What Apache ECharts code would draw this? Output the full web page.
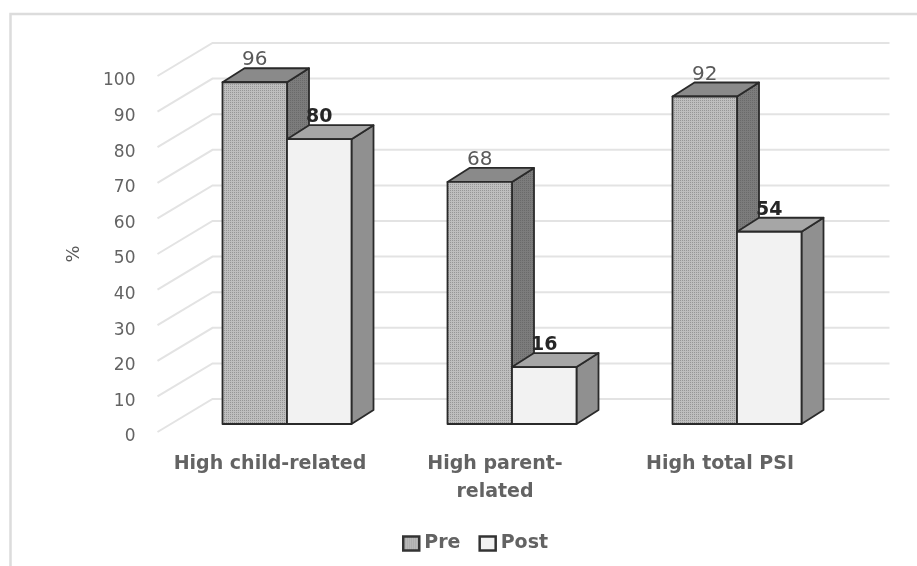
<!DOCTYPE html>
<html>
<head>
<meta charset="utf-8">
<style>
html, body { margin: 0; background: #fff; }
#main { width: 917px; height: 566px; }
</style>
<script src="https://cdn.jsdelivr.net/npm/echarts@6/dist/echarts.min.js"></script>
</head>
<body>
<div id="main"></div>
<script>
var categories = ['High child-related', 'High parent-\nrelated', 'High total PSI'];
var preValues = [96, 68, 92];
var postValues = [80, 16, 54];
var yTicks = [0, 10, 20, 30, 40, 50, 60, 70, 80, 90, 100];

var fontName = '"DejaVu Sans", sans-serif';
// depth of the side walls and of the bars, in pixels
var wallDx = 55, wallDy = -33;
var barShiftX = 17, barShiftY = -8;
var barDx = 22, barDy = -14;
var barWidth = 64.5;

function stipple(a, b) {
	var c = document.createElement('canvas');
	c.width = 4;
	c.height = 4;
	var g = c.getContext('2d');
	g.fillStyle = a;
	g.fillRect(0, 0, 4, 4);
	g.fillStyle = b;
	g.fillRect(0, 0, 1, 1);
	g.fillRect(2, 2, 1, 1);
	g.fillRect(2, 0, 1, 1);
	g.fillRect(0, 2, 1, 1);
	return { image: c, repeat: 'repeat' };
}

var preFront = stipple('#bebebe', '#969696');
var preSide = stipple('#7c7c7c', '#6a6a6a');
var line3d = { stroke: '#2a2a2a', lineWidth: 1.8, lineJoin: 'round' };

function barRenderer(side, front, top, right, labelColor, labelWeight, labelSize) {
	return function (params, api) {
		var i = api.value(0), v = api.value(1);
		var p = api.coord([i, v]);
		var p0 = api.coord([i, 0]);
		var xl = p[0] + barShiftX + (side < 0 ? -barWidth : 0);
		var xr = xl + barWidth;
		var yt = p[1] + barShiftY;
		var yb = p0[1] + barShiftY;
		function poly(points, fill) {
			return {
				type: 'polygon',
				shape: { points: points },
				style: { fill: fill, stroke: line3d.stroke, lineWidth: line3d.lineWidth, lineJoin: line3d.lineJoin }
			};
		}
		return {
			type: 'group',
			children: [
				poly([[xr, yt], [xr + barDx, yt + barDy], [xr + barDx, yb + barDy], [xr, yb]], right),
				poly([[xl, yt], [xr, yt], [xr + barDx, yt + barDy], [xl + barDx, yt + barDy]], top),
				poly([[xl, yt], [xr, yt], [xr, yb], [xl, yb]], front),
				{
					type: 'text',
					x: (xl + xr) / 2,
					y: yt - 22,
					style: {
						text: String(v),
						fill: labelColor,
						fontFamily: fontName,
						fontSize: labelSize,
						fontWeight: labelWeight,
						align: 'center',
						verticalAlign: 'middle'
					}
				}
			]
		};
	};
}

function wallRenderer(params, api) {
	var p = api.coord([0, api.value(0)]);
	var x0 = params.coordSys.x;
	var x1 = x0 + params.coordSys.width + wallDx + 2;
	return {
		type: 'polyline',
		shape: { points: [[x0, p[1]], [x0 + wallDx, p[1] + wallDy], [x1, p[1] + wallDy]] },
		style: { fill: null, stroke: '#e3e3e3', lineWidth: 2 }
	};
}

var chart = echarts.init(document.getElementById('main'), null, { renderer: 'canvas' });
chart.setOption({
	animation: false,
	backgroundColor: '#fff',
	textStyle: { fontFamily: fontName },
	graphic: [{
		type: 'polyline',
		shape: { points: [[10.5, 566], [10.5, 14], [917, 14]] },
		style: { fill: null, stroke: '#dcdcdc', lineWidth: 2.5 },
		silent: true
	}],
	grid: { left: 157.5, top: 76, width: 675, height: 356 },
	xAxis: {
		type: 'category',
		data: categories,
		axisLine: { show: false },
		axisTick: { show: false },
		axisLabel: {
			color: '#636363',
			fontFamily: fontName,
			fontSize: 19,
			fontWeight: 'bold',
			lineHeight: 28,
			margin: 18,
			interval: 0,
			hideOverlap: false
		}
	},
	yAxis: {
		type: 'value',
		min: 0,
		max: 100,
		interval: 10,
		name: '%',
		nameLocation: 'middle',
		nameGap: 74,
		nameTextStyle: { color: '#595959', fontSize: 18 },
		axisLine: { show: false },
		axisTick: { show: false },
		splitLine: { show: false },
		axisLabel: {
			color: '#636363',
			fontFamily: fontName,
			fontSize: 17,
			margin: 22,
			verticalAlign: 'top',
			lineHeight: 10,
			formatter: function (v) { return yTicks.indexOf(v) >= 0 ? String(v) : ''; }
		}
	},
	legend: {
		data: ['Pre', 'Post'],
		left: 397,
		top: 529,
		itemWidth: 16,
		itemHeight: 14,
		itemGap: 18,
		icon: 'rect',
		textStyle: { color: '#636363', fontSize: 19, fontWeight: 'bold', fontFamily: fontName },
		itemStyle: { borderColor: '#333', borderWidth: 2.5 }
	},
	series: [
		{
			type: 'custom',
			name: 'walls',
			data: yTicks.map(function (v) { return [v]; }),
			encode: { y: 0 },
			renderItem: wallRenderer,
			silent: true,
			z: 1
		},
		{
			type: 'custom',
			name: 'Pre',
			data: preValues.map(function (v, i) { return [i, v]; }),
			encode: { x: 0, y: 1 },
			itemStyle: { color: preFront },
			renderItem: barRenderer(-1, preFront, '#8a8a8a', preSide, '#595959', 'normal', 20),
			z: 2
		},
		{
			type: 'custom',
			name: 'Post',
			data: postValues.map(function (v, i) { return [i, v]; }),
			encode: { x: 0, y: 1 },
			itemStyle: { color: '#f2f2f2' },
			renderItem: barRenderer(1, '#f2f2f2', '#a6a6a6', '#909090', '#262626', 'bold', 19),
			z: 3
		}
	]
});
</script>
</body>
</html>
